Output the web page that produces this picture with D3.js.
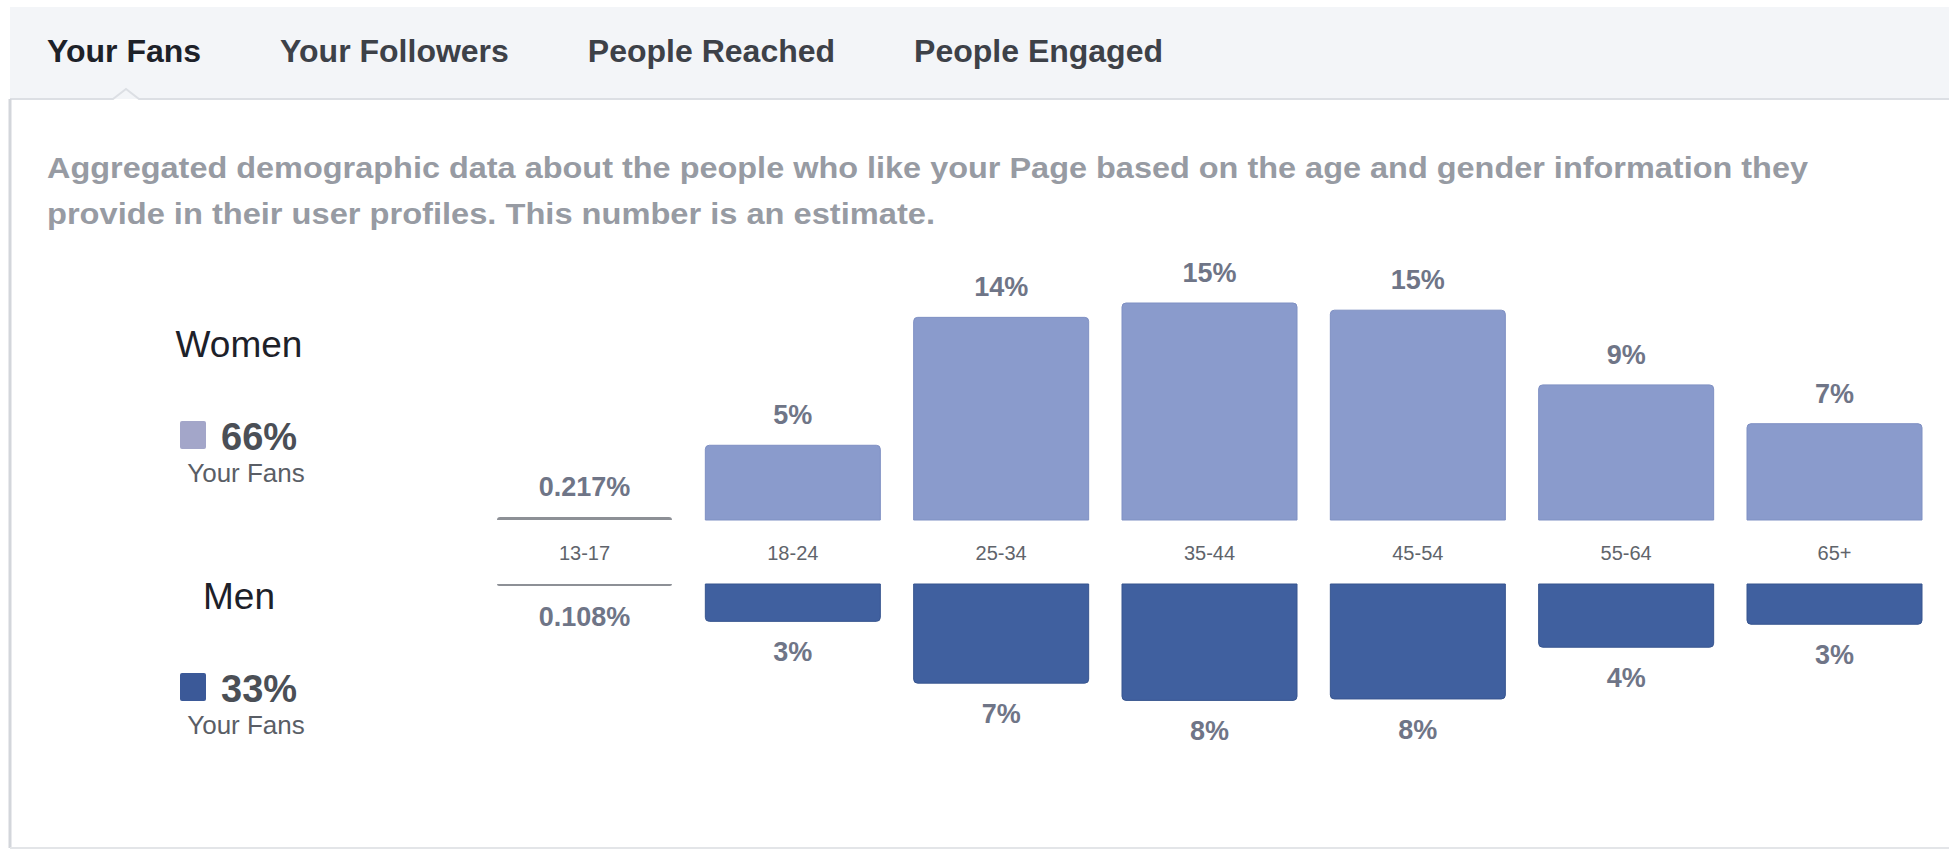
<!DOCTYPE html>
<html>
<head>
<meta charset="utf-8">
<script src="https://cdn.jsdelivr.net/npm/d3@7"></script>
<style>
  body { margin: 0; background: #fff; }
  svg { display: block; font-family: "Liberation Sans", Arial, Helvetica, sans-serif; }
</style>
</head>
<body>
<svg id="chart" width="1949" height="854"></svg>
<script>
// Data
const tabs = ["Your Fans", "Your Followers", "People Reached", "People Engaged"];
const description = [
  "Aggregated demographic data about the people who like your Page based on the age and gender information they",
  "provide in their user profiles. This number is an estimate."
];
const ageGroups = ["13-17", "18-24", "25-34", "35-44", "45-54", "55-64", "65+"];
const women = [0.217, 5.2, 14.1, 15.1, 14.6, 9.4, 6.7];
const men = [0.108, 2.6, 6.9, 8.1, 8.0, 4.4, 2.8];
const genders = ["Women", "Men"];
const genderShares = [66, 33];

const W = 1949, H = 854;
const svg = d3.select("#chart");

const womenColor = "#8a9bcc", menColor = "#40609f";
const labelColor = "#6f7587";

// --- card frame + tab bar
svg.append("rect").attr("x", 10).attr("y", 7).attr("width", W - 10).attr("height", 92)
  .attr("fill", "#f3f5f8");
svg.append("path")
  .attr("d", "M10,99 H113 L126,89 L139,99 H" + W)
  .attr("fill", "none").attr("stroke", "#dcdfe4").attr("stroke-width", 2);
svg.append("line").attr("x1", 10).attr("x2", 10).attr("y1", 99).attr("y2", 848)
  .attr("stroke", "#d3d6db").attr("stroke-width", 3);
svg.append("line").attr("x1", 10).attr("x2", W).attr("y1", 848).attr("y2", 848)
  .attr("stroke", "#e3e5e8").attr("stroke-width", 2);

// tabs laid out one after another
let tx = 47;
tabs.forEach((t, i) => {
  const el = svg.append("text")
    .attr("x", tx).attr("y", 62)
    .attr("font-size", 32).attr("font-weight", "bold")
    .attr("fill", i === 0 ? "#1d2129" : "#3d4148")
    .text(t);
  tx += el.node().getComputedTextLength() + 79;
});

// description
const descWidths = [1761, 888];
description.forEach((line, i) => {
  svg.append("text")
    .attr("x", 47).attr("y", 178 + i * 46)
    .attr("font-size", 29).attr("font-weight", "bold")
    .attr("fill", "#979ba3")
    .attr("textLength", descWidths[i]).attr("lengthAdjust", "spacingAndGlyphs")
    .text(line);
});

// --- legend
const legendY = [357, 609];
const legendColors = ["#a3a6c9", "#3b5998"];
genders.forEach((g, i) => {
  const y0 = legendY[i];
  svg.append("text").attr("x", 239).attr("y", y0)
    .attr("text-anchor", "middle").attr("font-size", 37).attr("fill", "#1d2129")
    .text(g);
  svg.append("rect").attr("x", 180).attr("y", y0 + 64).attr("width", 26).attr("height", 28)
    .attr("rx", 2).attr("fill", legendColors[i]);
  svg.append("text").attr("x", 221).attr("y", y0 + 93)
    .attr("font-size", 38).attr("font-weight", "bold").attr("fill", "#4b4f56")
    .text(genderShares[i] + "%");
  svg.append("text").attr("x", 246).attr("y", y0 + 125)
    .attr("text-anchor", "middle").attr("font-size", 26).attr("fill", "#5a5e66")
    .text("Your Fans");
});

// --- bars
const x = d3.scaleBand().domain(ageGroups).range([497, 1922]).paddingInner(0.16).paddingOuter(0);
const y = d3.scaleLinear().domain([0, 15.1]).range([0, 217]);
const womenBase = 520, menBase = 584;
const fmt = v => v < 1 ? v + "%" : Math.round(v) + "%";

function barPath(x0, w, base, h, dir) {
  // dir -1 = grows upward (rounded top), +1 = grows downward (rounded bottom)
  const r = Math.min(4, h);
  const end = base + dir * h;
  return `M${x0},${base} V${end - dir * r} Q${x0},${end} ${x0 + r},${end} H${x0 + w - r} Q${x0 + w},${end} ${x0 + w},${end - dir * r} V${base} Z`;
}

const cols = ageGroups.map((a, i) => ({ age: a, w: women[i], m: men[i] }));

svg.append("g").selectAll("path")
  .data(cols).join("path")
  .attr("d", d => barPath(x(d.age), x.bandwidth(), womenBase, Math.max(y(d.w), 2), -1))
  .attr("fill", d => d.w < 1 ? "#8d9096" : womenColor)
  .attr("stroke", d => d.w < 1 ? "none" : "#7f90c3").attr("stroke-width", 1);

svg.append("g").selectAll("path")
  .data(cols).join("path")
  .attr("d", d => barPath(x(d.age), x.bandwidth(), menBase, Math.max(y(d.m), 2), 1))
  .attr("fill", d => d.m < 1 ? "#8d9096" : menColor)
  .attr("stroke", d => d.m < 1 ? "none" : "#37558f").attr("stroke-width", 1);

// value labels
svg.append("g").selectAll("text")
  .data(cols).join("text")
  .attr("x", d => x(d.age) + x.bandwidth() / 2)
  .attr("y", d => womenBase - Math.max(y(d.w), 2) - 21)
  .attr("text-anchor", "middle").attr("font-size", 27).attr("font-weight", "bold")
  .attr("fill", labelColor)
  .text(d => fmt(d.w));

svg.append("g").selectAll("text")
  .data(cols).join("text")
  .attr("x", d => x(d.age) + x.bandwidth() / 2)
  .attr("y", d => menBase + Math.max(y(d.m), 2) + 40)
  .attr("text-anchor", "middle").attr("font-size", 27).attr("font-weight", "bold")
  .attr("fill", labelColor)
  .text(d => fmt(d.m));

// age axis labels between the two halves
svg.append("g").selectAll("text")
  .data(ageGroups).join("text")
  .attr("x", d => x(d) + x.bandwidth() / 2)
  .attr("y", 560)
  .attr("text-anchor", "middle").attr("font-size", 20).attr("fill", "#60646b")
  .text(d => d);
</script>
</body>
</html>
